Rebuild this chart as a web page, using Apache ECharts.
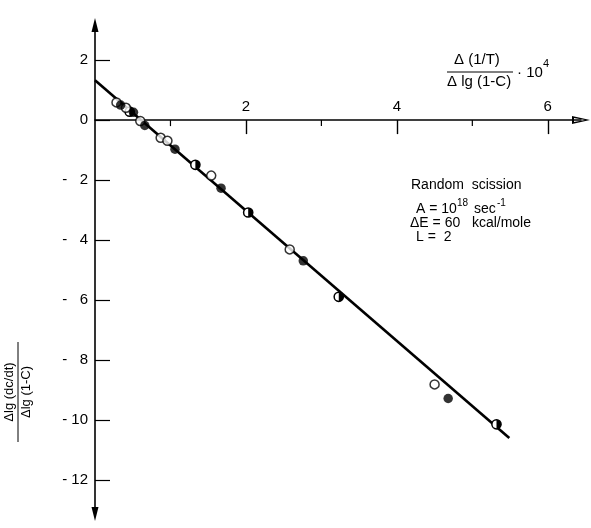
<!DOCTYPE html>
<html>
<head>
<meta charset="utf-8">
<script src="https://cdn.jsdelivr.net/npm/echarts@6/dist/echarts.min.js"></script>
<style>
  html, body { margin: 0; padding: 0; background: #fff; }
  #chart { width: 591px; height: 528px; }
</style>
</head>
<body>
<div id="chart"></div>
<script>
// Measured points: Δ(1/T)/Δlg(1-C) (×10^4) on x, Δlg(dc/dt)/Δlg(1-C) on y
const openX   = [0.285, 0.41, 0.60, 0.87, 0.96, 1.54, 2.58, 4.50];
const openY   = [0.59, 0.41, -0.03, -0.59, -0.69, -1.85, -4.31, -8.81];
const filledX = [0.34, 0.51, 0.66, 1.06, 1.67, 2.76, 4.68];
const filledY = [0.50, 0.26, -0.18, -0.97, -2.27, -4.69, -9.28];
const halfX   = [0.46, 1.33, 2.03, 3.23, 5.32];
const halfY   = [0.28, -1.49, -3.08, -5.89, -10.14];

// Random-scission model line (A = 1e18 s^-1, ΔE = 60 kcal/mole, L = 2)
const modelX = [0, 5.49];
const modelY = [1.33, -10.6];

// Axis ticks
const xMajorTicks = [2, 4, 6];
const xMinorTicks = [1, 3, 5];
const yTicks = [2, 0, -2, -4, -6, -8, -10, -12];

const X_MIN = 0, X_MAX = 6.44;
const Y_MIN = -13.13, Y_MAX = 3.17;

const FONT = 'Liberation Sans';
const font = size => size + 'px "' + FONT + '"';
const zip = (xs, ys) => xs.map((x, i) => [x, ys[i]]);

const chart = echarts.init(document.getElementById('chart'), null, { renderer: 'canvas' });

const triangle = 'path://M0,0 L1,4 L-1,4 Z';
const hollowArrow = 'path://M0,0 L4,18 L-4,18 Z M0,5 L-2,16 L2,16 Z';

// Plot area, and a band above it whose lower edge sits on y = 0 for the x axis
const PLOT = { left: 95, right: 10, top: 25, bottom: 14 };
const plotHeight = 528 - PLOT.top - PLOT.bottom;
const zeroOffset = plotHeight * Y_MAX / (Y_MAX - Y_MIN);

const option = {
  animation: false,
  backgroundColor: '#fff',
  grid: [
    { left: PLOT.left, right: PLOT.right, top: PLOT.top, bottom: PLOT.bottom },
    { left: PLOT.left, right: PLOT.right, top: PLOT.top, height: zeroOffset }
  ],
  xAxis: [
    { type: 'value', gridIndex: 0, min: X_MIN, max: X_MAX, show: false },
    {
      type: 'value', gridIndex: 1, min: X_MIN, max: X_MAX, position: 'bottom',
      axisLine: {
        onZero: false,
        lineStyle: { color: '#000', width: 1.5 },
        symbol: ['none', hollowArrow],
        symbolSize: [8, 18]
      },
      axisTick: { customValues: xMajorTicks, length: 14, lineStyle: { color: '#000', width: 1.4 } },
      axisLabel: {
        customValues: xMajorTicks, inside: true, margin: 6,
        color: '#000', fontSize: 15, fontFamily: FONT
      },
      splitLine: { show: false }
    }
  ],
  yAxis: [
    {
      type: 'value', gridIndex: 0, min: Y_MIN, max: Y_MAX,
      axisLine: {
        onZero: false,
        lineStyle: { color: '#000', width: 1.6 },
        symbol: [triangle, triangle],
        symbolSize: [7, 24]
      },
      axisTick: { customValues: yTicks, inside: true, length: 15, lineStyle: { color: '#000', width: 1.2 } },
      axisLabel: {
        customValues: yTicks, margin: 7,
        color: '#000', fontSize: 15, fontFamily: FONT,
        formatter: v => v < 0 ? (Math.abs(v) < 10 ? '- \u2007' + Math.abs(v) : '- ' + Math.abs(v)) : String(v)
      },
      splitLine: { show: false }
    },
    { type: 'value', gridIndex: 1, min: 0, max: 1, show: false }
  ],
  series: [
    {
      type: 'line', data: zip(modelX, modelY), symbol: 'none',
      lineStyle: { color: '#000', width: 2.6 }, z: 2, silent: true
    },
    {
      // minor ticks below the x axis
      type: 'custom', data: xMinorTicks.map(v => [v, 0]), silent: true, z: 1,
      renderItem: (params, api) => {
        const p = api.coord([api.value(0), api.value(1)]);
        return { type: 'line', shape: { x1: p[0], y1: p[1], x2: p[0], y2: p[1] + 6 },
                 style: { stroke: '#000', lineWidth: 1.2 } };
      }
    },
    {
      type: 'scatter', data: zip(openX, openY), symbol: 'circle', symbolSize: 9,
      itemStyle: { color: '#fff', borderColor: '#000', borderWidth: 1.5 }, z: 3
    },
    {
      type: 'scatter', data: zip(filledX, filledY), symbol: 'circle', symbolSize: 9.5,
      itemStyle: { color: '#000' }, z: 3
    },
    {
      type: 'custom', data: zip(halfX, halfY), z: 3,
      renderItem: (params, api) => {
        const p = api.coord([api.value(0), api.value(1)]);
        const r = 4.6;
        return {
          type: 'group',
          children: [
            { type: 'circle', shape: { cx: p[0], cy: p[1], r: r },
              style: { fill: '#fff', stroke: '#000', lineWidth: 1.5 } },
            { type: 'sector', shape: { cx: p[0], cy: p[1], r0: 0, r: r,
              startAngle: -Math.PI / 2, endAngle: Math.PI / 2 },
              style: { fill: '#000' } }
          ]
        };
      }
    }
  ],
  graphic: [
    // x-axis title: Δ(1/T) / Δlg(1-C) · 10^4
    { type: 'text', left: 454, top: 52, style: { text: 'Δ (1/T)', font: font(15), fill: '#000' } },
    { type: 'line', shape: { x1: 447, y1: 72, x2: 513, y2: 72 }, style: { stroke: '#000', lineWidth: 1 } },
    { type: 'text', left: 447, top: 74, style: { text: 'Δ lg (1-C)', font: font(15), fill: '#000' } },
    { type: 'text', left: 517, top: 65, style: { text: '· 10', font: font(15), fill: '#000' } },
    { type: 'text', left: 543, top: 58, style: { text: '4', font: font(11), fill: '#000' } },

    // y-axis title, rotated fraction
    {
      type: 'group', x: 18, y: 392, rotation: Math.PI / 2,
      children: [
        { type: 'text', x: 0, y: -2, style: { text: 'Δlg (dc/dt)', font: font(13), fill: '#000',
          align: 'center', verticalAlign: 'bottom' } },
        { type: 'line', shape: { x1: -50, y1: 0, x2: 50, y2: 0 }, style: { stroke: '#000', lineWidth: 1 } },
        { type: 'text', x: 0, y: 2, style: { text: 'Δlg (1-C)', font: font(13), fill: '#000',
          align: 'center', verticalAlign: 'top' } }
      ]
    },

    // model parameters
    { type: 'text', left: 411, top: 178, style: { text: 'Random  scission', font: font(14), fill: '#000' } },
    { type: 'text', left: 416, top: 202, style: { text: 'A = 10', font: font(14), fill: '#000' } },
    { type: 'text', left: 457, top: 198, style: { text: '18', font: font(10), fill: '#000' } },
    { type: 'text', left: 474, top: 202, style: { text: 'sec', font: font(14), fill: '#000' } },
    { type: 'text', left: 497, top: 198, style: { text: '-1', font: font(10), fill: '#000' } },
    { type: 'text', left: 410, top: 216, style: { text: 'ΔE = 60   kcal/mole', font: font(14), fill: '#000' } },
    { type: 'text', left: 416, top: 230, style: { text: 'L =  2', font: font(14), fill: '#000' } }
  ]
};

chart.setOption(option);
</script>
</body>
</html>
